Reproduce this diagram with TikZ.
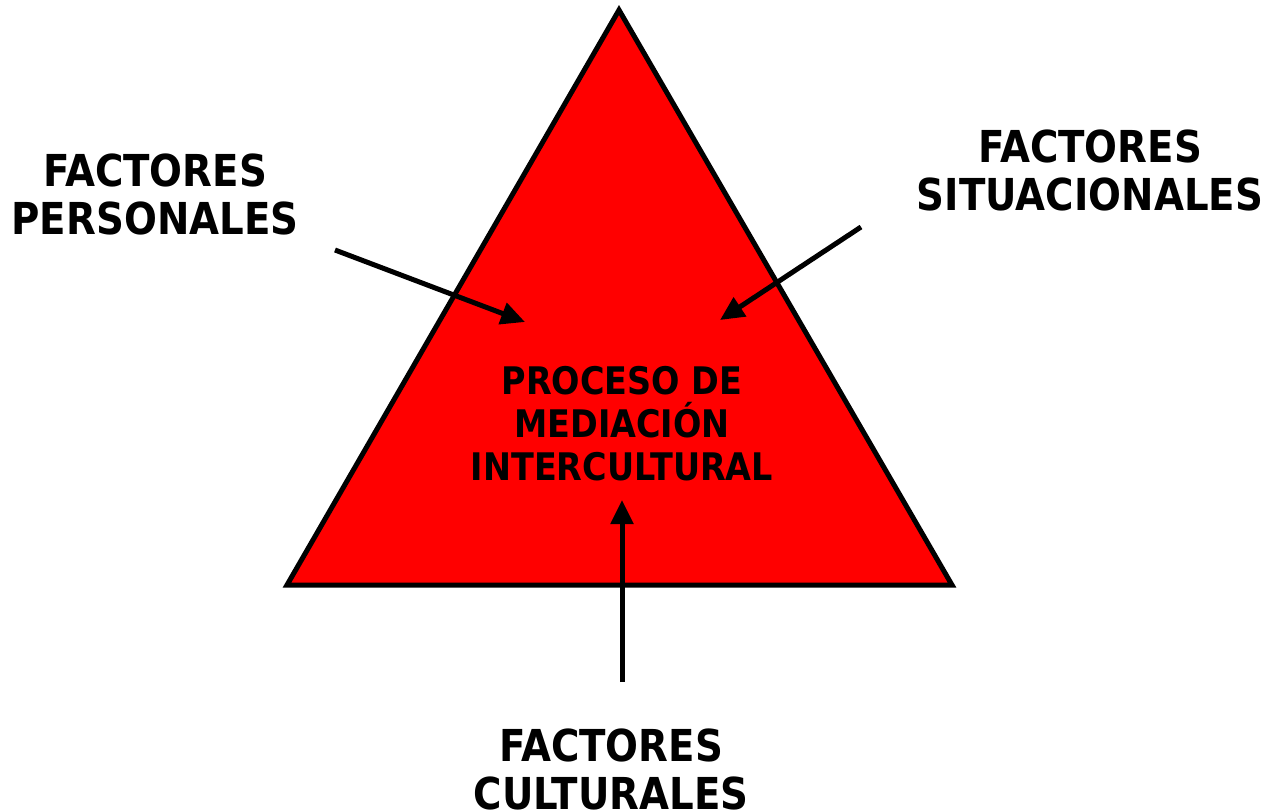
\documentclass[tikz,border=0pt]{standalone}
\usepackage{fontspec}
\setmainfont{DejaVu Sans}[FakeStretch=0.88]
\usetikzlibrary{arrows.meta}
\begin{document}
\begin{tikzpicture}[x=1pt,y=-1pt,
  lbl/.style={font=\bfseries\fontsize{44}{48}\selectfont, align=center, inner sep=0pt},
  inlbl/.style={font=\bfseries\fontsize{38}{43}\selectfont, align=center, inner sep=0pt},
  arr/.style={line width=5pt, -{Triangle[length=24pt,width=22pt]}}]
\useasboundingbox (0,0) rectangle (1272,811);
\coordinate (apex) at (619,10);
\coordinate (bl) at (287,585);
\coordinate (br) at (952,585);
\filldraw[fill=red, draw=black, line width=5pt, line join=miter] (apex) -- (bl) -- (br) -- cycle;
\node[inlbl] (center) at (622,424) {PROCESO DE\\MEDIACIÓN\\INTERCULTURAL};
\node[lbl] (pers) at (155,194) {FACTORES\\PERSONALES};
\node[lbl] (sit) at (1090,170) {FACTORES\\SITUACIONALES};
\node[lbl] (cult) at (611,769) {FACTORES\\CULTURALES};
\coordinate (ps) at (335,250);
\coordinate (pe) at (525,322);
\coordinate (ss) at (861,227);
\coordinate (se) at (720,320);
\coordinate (cs) at (622,682);
\coordinate (ce) at (622,500);
\draw[arr] (ps) -- (pe);
\draw[arr] (ss) -- (se);
\draw[arr] (cs) -- (ce);
\end{tikzpicture}
\end{document}
